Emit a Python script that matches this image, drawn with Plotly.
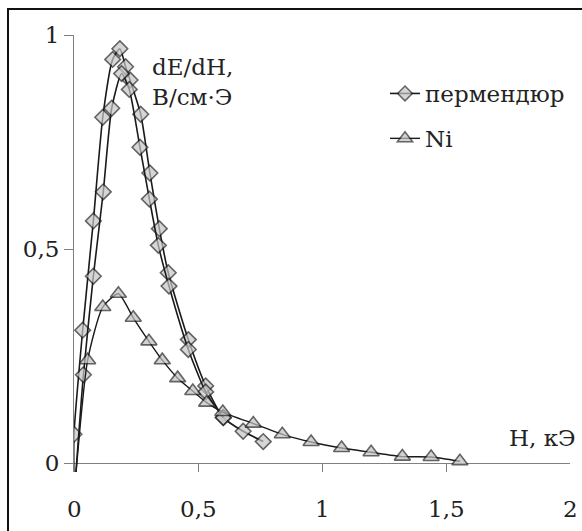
import plotly.graph_objects as go

# --- data ---
perm_up_x = [0.0, 0.0, 0.035, 0.078, 0.116, 0.156, 0.185, 0.208, 0.226, 0.269, 0.306, 0.344, 0.380, 0.461, 0.531, 0.602, 0.682, 0.763]
perm_up_y = [-0.05, 0.068, 0.311, 0.566, 0.808, 0.943, 0.968, 0.926, 0.895, 0.815, 0.678, 0.548, 0.445, 0.289, 0.181, 0.107, 0.075, 0.051]

perm_dn_x = [0.004, 0.038, 0.078, 0.118, 0.152, 0.192, 0.223, 0.266, 0.304, 0.340, 0.383, 0.461, 0.531, 0.602]
perm_dn_y = [-0.05, 0.207, 0.437, 0.634, 0.829, 0.910, 0.873, 0.738, 0.617, 0.509, 0.414, 0.266, 0.167, 0.107]

ni_x = [0.004, 0.055, 0.116, 0.179, 0.239, 0.302, 0.356, 0.418, 0.479, 0.535, 0.600, 0.723, 0.840, 0.956, 1.079, 1.198, 1.324, 1.440, 1.556]
ni_y = [-0.05, 0.241, 0.365, 0.396, 0.340, 0.285, 0.241, 0.199, 0.169, 0.142, 0.120, 0.093, 0.068, 0.050, 0.036, 0.026, 0.016, 0.015, 0.005]

x_ticks = [0, 0.5, 1, 1.5, 2]
x_tick_labels = ["0", "0,5", "1", "1,5", "2"]
y_ticks = [0, 0.5, 1]
y_tick_labels = ["0", "0,5", "1"]

series_names = ["пермендюр", "Ni"]
y_title = "dE/dH,<br>В/см·Э"
x_title = "H, кЭ"

FONT = "DejaVu Serif"
TXT = "#222222"
LINE = "#1a1a1a"
FS = 23


def sizes(n, s):
    return [0] + [s] * (n - 1)


def widths(n, w):
    return [0] + [w] * (n - 1)


fig = go.Figure()
fig.add_trace(go.Scatter(
    x=perm_up_x, y=perm_up_y, mode="lines+markers", name=series_names[0],
    legendgroup="a",
    line=dict(color=LINE, width=1.6, shape="spline", smoothing=0.6),
    marker=dict(symbol="diamond", size=sizes(len(perm_up_x), 12), color="#c6c6c6",
                line=dict(color="#222222", width=widths(len(perm_up_x), 1.6))),
))
fig.add_trace(go.Scatter(
    x=perm_dn_x, y=perm_dn_y, mode="lines+markers", name=series_names[0],
    showlegend=False, legendgroup="a",
    line=dict(color=LINE, width=1.6, shape="spline", smoothing=0.6),
    marker=dict(symbol="diamond", size=sizes(len(perm_dn_x), 12), color="#c6c6c6",
                line=dict(color="#222222", width=widths(len(perm_dn_x), 1.6))),
))
fig.add_trace(go.Scatter(
    x=ni_x, y=ni_y, mode="lines+markers", name=series_names[1],
    legendgroup="b",
    line=dict(color=LINE, width=1.4, shape="spline", smoothing=0.6),
    marker=dict(symbol="triangle-up", size=sizes(len(ni_x), 14), color="#c0c0c0",
                line=dict(color="#222222", width=widths(len(ni_x), 1.6))),
))

W, H = 582, 531
L, R, T, B = 74, 12, 35, 59
pw = W - L - R
ph = H - T - B

def px_x(p):
    return (p - L) / pw

def px_y(p):
    return (H - B - p) / ph

fig.add_shape(type="rect", xref="paper", yref="paper",
              x0=px_x(8), x1=px_x(600), y0=px_y(550), y1=px_y(9),
              line=dict(color="#111111", width=2), fillcolor="rgba(0,0,0,0)", layer="above")

fig.add_annotation(xref="paper", yref="paper", x=px_x(150), y=px_y(82), xanchor="left", yanchor="middle",
                   text=y_title, showarrow=False, align="left",
                   font=dict(family=FONT, size=FS, color=TXT))
fig.add_annotation(xref="paper", yref="paper", x=px_x(578), y=px_y(438), xanchor="right", yanchor="middle",
                   text=x_title, showarrow=False, align="right",
                   font=dict(family=FONT, size=FS, color=TXT))
# x tick labels placed under the ticks
for v, t in zip(x_ticks, x_tick_labels):
    fig.add_annotation(xref="x", yref="paper", x=v, y=px_y(509), xanchor="center", yanchor="middle",
                       text=t, showarrow=False, font=dict(family=FONT, size=FS, color=TXT))

fig.update_layout(
    width=W, height=H,
    margin=dict(l=L, r=R, t=T, b=B),
    paper_bgcolor="white", plot_bgcolor="white",
    font=dict(family=FONT, size=FS, color=TXT),
    showlegend=True,
    legend=dict(x=px_x(385), y=px_y(72), xanchor="left", yanchor="top",
                bgcolor="rgba(0,0,0,0)", borderwidth=0,
                tracegroupgap=12, traceorder="grouped",
                font=dict(family=FONT, size=FS, color=TXT)),
    xaxis=dict(range=[0, 2], tickmode="array", tickvals=x_ticks, showticklabels=False,
               ticks="inside", ticklen=9, tickwidth=1,
               tickcolor="#808080", showline=False, showgrid=False, zeroline=False),
    yaxis=dict(range=[-0.02, 1], tickmode="array", tickvals=y_ticks, ticktext=y_tick_labels,
               ticks="outside", ticklen=9, tickwidth=1,
               tickcolor="#808080", showline=True, linecolor="#808080", linewidth=1,
               showgrid=False, zeroline=True, zerolinecolor="#808080", zerolinewidth=1,
               tickfont=dict(family=FONT, size=FS, color=TXT)),
)

fig.write_html("out.html", post_script="document.body.style.margin='0';",
               config={"displayModeBar": False})
